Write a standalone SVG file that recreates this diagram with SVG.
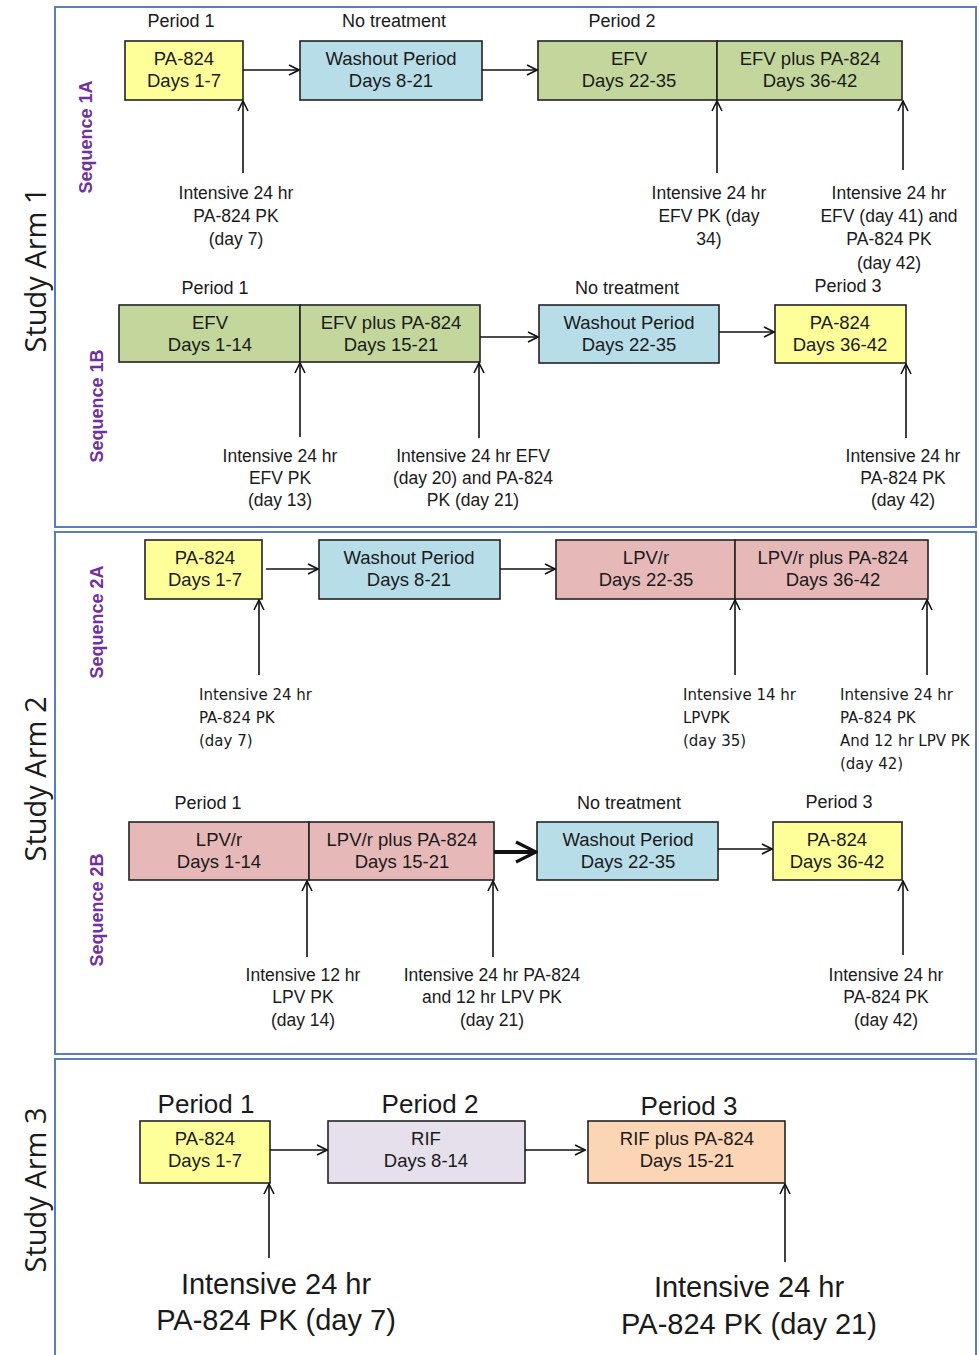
<svg xmlns="http://www.w3.org/2000/svg" width="979" height="1355" viewBox="0 0 979 1355">
<defs>
<marker id="ah" viewBox="0 0 12 12" refX="11" refY="6" markerWidth="12" markerHeight="12" markerUnits="userSpaceOnUse" orient="auto">
<path d="M1,1 L11,6 L1,11" fill="none" stroke="#111" stroke-width="1.6"/>
</marker>
<marker id="ahb" viewBox="0 0 12 12" refX="11" refY="6" markerWidth="6" markerHeight="6" orient="auto">
<path d="M1,1 L11,6 L1,11" fill="none" stroke="#111" stroke-width="1.6"/>
</marker>
</defs>
<style>
text{font-family:"Liberation Sans",Arial,sans-serif;fill:#1a1a1a;}
.panel{fill:#fff;stroke:#5a7dbf;stroke-width:2;}
.box{stroke:#222;stroke-width:1.6;}
.y{fill:#ffff99;}
.b{fill:#b7dde8;}
.g{fill:#c3d69b;}
.p{fill:#e6b9b8;}
.l{fill:#e5e0ec;}
.o{fill:#fcd5b5;}
.bt{font-size:18.5px;text-anchor:middle;}
.hd{font-size:18px;text-anchor:middle;}
.an{font-size:17.5px;text-anchor:middle;}
.al{font-size:15px;font-family:"DejaVu Sans","Liberation Sans",sans-serif;}
.arm{font-size:29px;font-family:"Open Sans","Liberation Sans",sans-serif;text-anchor:middle;}
.seq{font-size:18px;font-weight:bold;fill:#7030a0;text-anchor:middle;}
.h3{font-size:26px;text-anchor:middle;}
.a3{font-size:29px;text-anchor:middle;}
.conn line{stroke:#111;stroke-width:1.6;marker-end:url(#ah);}
</style>

<g id="panels">
<rect class="panel" x="55" y="7" width="921" height="520"/>
<rect class="panel" x="55" y="532" width="921" height="522"/>
<rect class="panel" x="55" y="1059" width="921" height="300"/>
</g>

<g id="arm-labels">
<text class="arm" transform="translate(46,270) rotate(-90)">Study Arm 1</text>
<text class="arm" transform="translate(46,779) rotate(-90)">Study Arm 2</text>
<text class="arm" transform="translate(46,1190) rotate(-90)">Study Arm 3</text>
<text class="seq" transform="translate(92,137) rotate(-90)">Sequence 1A</text>
<text class="seq" transform="translate(103,406) rotate(-90)">Sequence 1B</text>
<text class="seq" transform="translate(103,622) rotate(-90)">Sequence  2A</text>
<text class="seq" transform="translate(103,910) rotate(-90)">Sequence 2B</text>
</g>

<g id="headers">
<text class="hd" x="181" y="27">Period 1</text>
<text class="hd" x="394" y="27">No treatment</text>
<text class="hd" x="622" y="27">Period 2</text>
<text class="hd" x="215" y="294">Period 1</text>
<text class="hd" x="627" y="294">No treatment</text>
<text class="hd" x="848" y="292">Period 3</text>
<text class="hd" x="208" y="809">Period 1</text>
<text class="hd" x="629" y="809">No treatment</text>
<text class="hd" x="839" y="808">Period 3</text>
<text class="h3" x="206" y="1113">Period  1</text>
<text class="h3" x="430" y="1113">Period  2</text>
<text class="h3" x="689" y="1115">Period  3</text>
</g>

<!-- Sequence 1A -->
<g id="n1a1"><rect class="box y" x="125" y="41" width="118" height="59"/><text class="bt" x="184" y="65">PA-824</text><text class="bt" x="184" y="87">Days 1-7</text></g>
<g id="n1a2"><rect class="box b" x="300" y="41" width="182" height="59"/><text class="bt" x="391" y="65">Washout Period</text><text class="bt" x="391" y="87">Days 8-21</text></g>
<g id="n1a3"><rect class="box g" x="538" y="41" width="179" height="59"/><text class="bt" x="629" y="65">EFV</text><text class="bt" x="629" y="87">Days 22-35</text></g>
<g id="n1a4"><rect class="box g" x="717" y="41" width="185" height="59"/><text class="bt" x="810" y="65">EFV plus PA-824</text><text class="bt" x="810" y="87">Days 36-42</text></g>

<!-- Sequence 1B -->
<g id="n1b1"><rect class="box g" x="119" y="305" width="181" height="57"/><text class="bt" x="210" y="329">EFV</text><text class="bt" x="210" y="351">Days 1-14</text></g>
<g id="n1b2"><rect class="box g" x="300" y="305" width="180" height="57"/><text class="bt" x="391" y="329">EFV plus PA-824</text><text class="bt" x="391" y="351">Days 15-21</text></g>
<g id="n1b3"><rect class="box b" x="539" y="305" width="180" height="58"/><text class="bt" x="629" y="329">Washout Period</text><text class="bt" x="629" y="351">Days 22-35</text></g>
<g id="n1b4"><rect class="box y" x="775" y="305" width="131" height="58"/><text class="bt" x="840" y="329">PA-824</text><text class="bt" x="840" y="351">Days 36-42</text></g>

<!-- Sequence 2A -->
<g id="n2a1"><rect class="box y" x="145" y="540" width="117" height="59"/><text class="bt" x="205" y="564">PA-824</text><text class="bt" x="205" y="586">Days 1-7</text></g>
<g id="n2a2"><rect class="box b" x="319" y="540" width="181" height="59"/><text class="bt" x="409" y="564">Washout Period</text><text class="bt" x="409" y="586">Days 8-21</text></g>
<g id="n2a3"><rect class="box p" x="556" y="540" width="179" height="59"/><text class="bt" x="646" y="564">LPV/r</text><text class="bt" x="646" y="586">Days 22-35</text></g>
<g id="n2a4"><rect class="box p" x="735" y="540" width="193" height="59"/><text class="bt" x="833" y="564">LPV/r plus PA-824</text><text class="bt" x="833" y="586">Days 36-42</text></g>

<!-- Sequence 2B -->
<g id="n2b1"><rect class="box p" x="129" y="822" width="180" height="58"/><text class="bt" x="219" y="846">LPV/r</text><text class="bt" x="219" y="868">Days 1-14</text></g>
<g id="n2b2"><rect class="box p" x="309" y="822" width="185" height="58"/><text class="bt" x="402" y="846">LPV/r plus PA-824</text><text class="bt" x="402" y="868">Days 15-21</text></g>
<g id="n2b3"><rect class="box b" x="537" y="822" width="181" height="58"/><text class="bt" x="628" y="846">Washout Period</text><text class="bt" x="628" y="868">Days 22-35</text></g>
<g id="n2b4"><rect class="box y" x="773" y="822" width="129" height="58"/><text class="bt" x="837" y="846">PA-824</text><text class="bt" x="837" y="868">Days 36-42</text></g>

<!-- Arm 3 -->
<g id="n31"><rect class="box y" x="140" y="1121" width="130" height="62"/><text class="bt" x="205" y="1145">PA-824</text><text class="bt" x="205" y="1167">Days 1-7</text></g>
<g id="n32"><rect class="box l" x="328" y="1121" width="197" height="62"/><text class="bt" x="426" y="1145">RIF</text><text class="bt" x="426" y="1167">Days 8-14</text></g>
<g id="n33"><rect class="box o" x="588" y="1121" width="197" height="62"/><text class="bt" x="687" y="1145">RIF plus PA-824</text><text class="bt" x="687" y="1167">Days 15-21</text></g>

<g id="connectors" class="conn">
<line x1="243" y1="70" x2="299" y2="70"/>
<line x1="482" y1="70" x2="537" y2="70"/>
<line x1="243" y1="173" x2="243" y2="101"/>
<line x1="717" y1="173" x2="717" y2="101"/>
<line x1="903" y1="170" x2="903" y2="101"/>

<line x1="480" y1="337" x2="538" y2="337"/>
<line x1="719" y1="332" x2="774" y2="332"/>
<line x1="300" y1="437" x2="300" y2="363"/>
<line x1="479" y1="438" x2="479" y2="363"/>
<line x1="906" y1="438" x2="906" y2="364"/>

<line x1="266" y1="569" x2="318" y2="569"/>
<line x1="500" y1="569" x2="555" y2="569"/>
<line x1="259" y1="675" x2="259" y2="600"/>
<line x1="735" y1="675" x2="735" y2="600"/>
<line x1="927" y1="675" x2="927" y2="600"/>

<line x1="494" y1="852" x2="536" y2="852" style="stroke-width:4;marker-end:url(#ahb)"/>
<line x1="718" y1="849" x2="772" y2="849"/>
<line x1="307" y1="957" x2="307" y2="881"/>
<line x1="493" y1="957" x2="493" y2="881"/>
<line x1="903" y1="955" x2="903" y2="881"/>

<line x1="270" y1="1150" x2="327" y2="1150"/>
<line x1="525" y1="1150" x2="585" y2="1150"/>
<line x1="269" y1="1258" x2="269" y2="1184"/>
<line x1="785" y1="1262" x2="785" y2="1184"/>
</g>

<g id="annotations">
<text class="an" x="236" y="199">Intensive 24 hr</text>
<text class="an" x="236" y="222">PA-824 PK</text>
<text class="an" x="236" y="245">(day 7)</text>

<text class="an" x="709" y="199">Intensive 24 hr</text>
<text class="an" x="709" y="222">EFV PK (day</text>
<text class="an" x="709" y="245">34)</text>

<text class="an" x="889" y="199">Intensive 24 hr</text>
<text class="an" x="889" y="222">EFV (day 41) and</text>
<text class="an" x="889" y="245">PA-824 PK</text>
<text class="an" x="889" y="269">(day 42)</text>

<text class="an" x="280" y="462">Intensive 24 hr</text>
<text class="an" x="280" y="484">EFV PK</text>
<text class="an" x="280" y="506">(day 13)</text>

<text class="an" x="473" y="462">Intensive 24 hr EFV</text>
<text class="an" x="473" y="484">(day 20) and PA-824</text>
<text class="an" x="473" y="506">PK (day 21)</text>

<text class="an" x="903" y="462">Intensive 24 hr</text>
<text class="an" x="903" y="484">PA-824 PK</text>
<text class="an" x="903" y="506">(day 42)</text>

<text class="al" x="199" y="700">Intensive 24 hr</text>
<text class="al" x="199" y="723">PA-824 PK</text>
<text class="al" x="199" y="746">(day 7)</text>

<text class="al" x="683" y="700">Intensive 14 hr</text>
<text class="al" x="683" y="723">LPVPK</text>
<text class="al" x="683" y="746">(day 35)</text>

<text class="al" x="840" y="700">Intensive 24 hr</text>
<text class="al" x="840" y="723">PA-824 PK</text>
<text class="al" x="840" y="746">And 12 hr LPV PK</text>
<text class="al" x="840" y="769">(day 42)</text>

<text class="an" x="303" y="981">Intensive 12 hr</text>
<text class="an" x="303" y="1003">LPV PK</text>
<text class="an" x="303" y="1026">(day 14)</text>

<text class="an" x="492" y="981">Intensive 24 hr PA-824</text>
<text class="an" x="492" y="1003">and 12 hr LPV PK</text>
<text class="an" x="492" y="1026">(day 21)</text>

<text class="an" x="886" y="981">Intensive 24 hr</text>
<text class="an" x="886" y="1003">PA-824 PK</text>
<text class="an" x="886" y="1026">(day 42)</text>

<text class="a3" x="276" y="1294">Intensive  24 hr</text>
<text class="a3" x="276" y="1330">PA-824  PK (day 7)</text>
<text class="a3" x="749" y="1297">Intensive  24 hr</text>
<text class="a3" x="749" y="1334">PA-824  PK (day 21)</text>
</g>
</svg>
